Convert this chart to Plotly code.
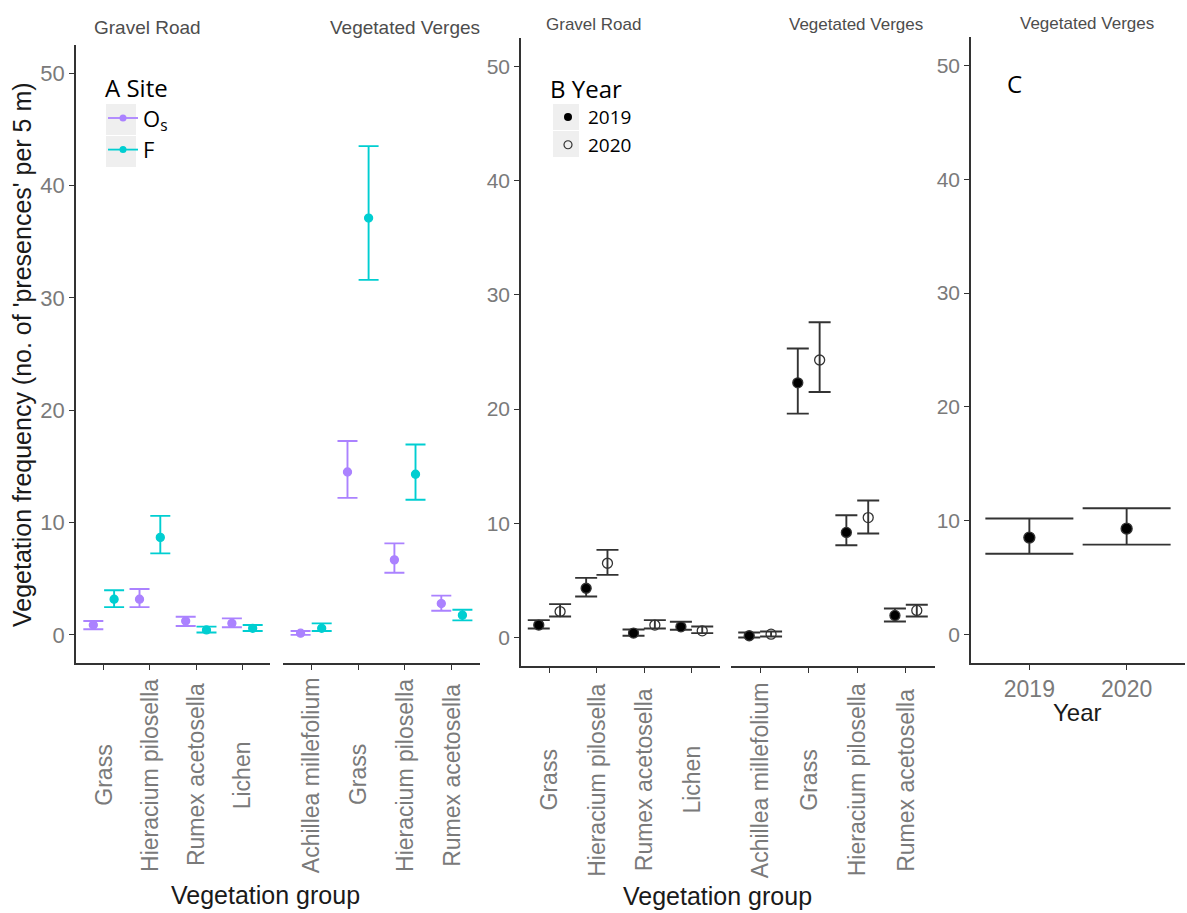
import plotly.graph_objects as go

W, H = 1187, 913

# ---------------- data ----------------
gravel_groups = ["Grass", "Hieracium pilosella", "Rumex acetosella", "Lichen"]
verge_groups = ["Achillea millefolium", "Grass", "Hieracium pilosella", "Rumex acetosella"]
years = ["2019", "2020"]
y_ticks = [0, 10, 20, 30, 40, 50]

# A: by site (Os / F), mean with lower / upper limits
a_gravel_os_mean = [0.88, 3.18, 1.24, 1.03]
a_gravel_os_low = [0.50, 2.47, 0.79, 0.68]
a_gravel_os_high = [1.24, 4.09, 1.62, 1.47]
a_gravel_f_mean = [3.18, 8.68, 0.44, 0.59]
a_gravel_f_low = [2.47, 7.26, 0.21, 0.35]
a_gravel_f_high = [3.97, 10.59, 0.74, 0.88]

a_verge_os_mean = [0.15, 14.5, 6.68, 2.79]
a_verge_os_low = [0.00, 12.2, 5.53, 2.15]
a_verge_os_high = [0.35, 17.26, 8.15, 3.50]
a_verge_f_mean = [0.59, 37.1, 14.3, 1.76]
a_verge_f_low = [0.35, 31.6, 12.03, 1.29]
a_verge_f_high = [1.03, 43.5, 16.94, 2.24]

# B: by year (2019 / 2020)
b_gravel_2019_mean = [1.08, 4.31, 0.38, 0.93]
b_gravel_2019_low = [0.79, 3.59, 0.15, 0.67]
b_gravel_2019_high = [1.52, 5.22, 0.70, 1.37]
b_gravel_2020_mean = [2.27, 6.50, 1.08, 0.58]
b_gravel_2020_low = [1.84, 5.48, 0.79, 0.38]
b_gravel_2020_high = [2.92, 7.67, 1.52, 0.96]

b_verge_2019_mean = [0.15, 22.3, 9.2, 1.93]
b_verge_2019_low = [0.00, 19.6, 8.07, 1.40]
b_verge_2019_high = [0.44, 25.3, 10.7, 2.54]
b_verge_2020_mean = [0.29, 24.3, 10.5, 2.37]
b_verge_2020_low = [0.09, 21.5, 9.1, 1.84]
b_verge_2020_high = [0.52, 27.6, 12.0, 2.87]

# C: vegetated verges, all groups, by year
c_mean = [8.52, 9.30]
c_low = [7.10, 7.90]
c_high = [10.2, 11.1]

# ---------------- styling ----------------
PURPLE = "#AB82FF"
CYAN = "#00CED1"
DARK = "#333333"
TICK_GREY = "#7a7a7a"
STRIP_GREY = "#4d4d4d"
ARIAL = "Liberation Sans, Arial, sans-serif"
SANS = "Open Sans, Noto Sans, sans-serif"
DODGE = 0.225


def px_x(p):
    return p / W


def px_y(p):
    return 1 - p / H


fig = go.Figure()


def add_series(xa, ya, cats, mean, low, high, offset, color, symbol, size, cap,
               lcolor=None):
    xs = [i + offset for i in range(len(cats))]
    fig.add_trace(go.Scatter(
        x=xs, y=mean, mode="markers", xaxis=xa, yaxis=ya, showlegend=False,
        marker=dict(color=color, symbol=symbol, size=size,
                    line=dict(width=1.3, color=lcolor or color)),
        error_y=dict(type="data", symmetric=False,
                     array=[h - m for h, m in zip(high, mean)],
                     arrayminus=[m - l for m, l in zip(mean, low)],
                     color=lcolor or color, thickness=1.9, width=cap),
    ))


# Panel A
add_series("x", "y", gravel_groups, a_gravel_os_mean, a_gravel_os_low, a_gravel_os_high,
           -DODGE, PURPLE, "circle", 8, 10)
add_series("x", "y", gravel_groups, a_gravel_f_mean, a_gravel_f_low, a_gravel_f_high,
           DODGE, CYAN, "circle", 8, 10)
add_series("x2", "y", verge_groups, a_verge_os_mean, a_verge_os_low, a_verge_os_high,
           -DODGE, PURPLE, "circle", 8, 10)
add_series("x2", "y", verge_groups, a_verge_f_mean, a_verge_f_low, a_verge_f_high,
           DODGE, CYAN, "circle", 8, 10)

# Panel B
add_series("x3", "y2", gravel_groups, b_gravel_2019_mean, b_gravel_2019_low, b_gravel_2019_high,
           -DODGE, "black", "circle", 10, 11, DARK)
add_series("x3", "y2", gravel_groups, b_gravel_2020_mean, b_gravel_2020_low, b_gravel_2020_high,
           DODGE, DARK, "circle-open", 10, 11, DARK)
add_series("x4", "y2", verge_groups, b_verge_2019_mean, b_verge_2019_low, b_verge_2019_high,
           -DODGE, "black", "circle", 10, 11, DARK)
add_series("x4", "y2", verge_groups, b_verge_2020_mean, b_verge_2020_low, b_verge_2020_high,
           DODGE, DARK, "circle-open", 10, 11, DARK)

# Panel C
add_series("x5", "y3", years, c_mean, c_low, c_high, 0, "black", "circle", 11, 44, DARK)

# legend entries
fig.add_trace(go.Scatter(x=[None], y=[None], mode="lines+markers", name="O<sub>s</sub>",
                         line=dict(color=PURPLE, width=1.8), marker=dict(color=PURPLE, size=7),
                         xaxis="x", yaxis="y", legend="legend"))
fig.add_trace(go.Scatter(x=[None], y=[None], mode="lines+markers", name="F",
                         line=dict(color=CYAN, width=1.8), marker=dict(color=CYAN, size=7),
                         xaxis="x", yaxis="y", legend="legend"))
fig.add_trace(go.Scatter(x=[None], y=[None], mode="markers", name=years[0],
                         marker=dict(color="black", size=8),
                         xaxis="x3", yaxis="y2", legend="legend2"))
fig.add_trace(go.Scatter(x=[None], y=[None], mode="markers", name=years[1],
                         marker=dict(color=DARK, size=8, symbol="circle-open", line=dict(width=1.2)),
                         xaxis="x3", yaxis="y2", legend="legend2"))

# ---------------- axes ----------------
line_style = dict(showline=True, linecolor=DARK, linewidth=1.6, ticks="outside",
                  tickcolor=DARK, ticklen=5, tickwidth=1.3, showgrid=False,
                  zeroline=False, fixedrange=True)


def xaxis(left, right, n, anchor):
    return dict(domain=[px_x(left), px_x(right)], range=[-0.6, n - 0.4], anchor=anchor,
                tickvals=list(range(n)), showticklabels=False, **line_style)


def yaxis(top, bottom, anchor, size):
    return dict(domain=[px_y(bottom), px_y(top)], range=[-2.5, 52.5], anchor=anchor,
                tickvals=y_ticks, ticktext=[str(v) for v in y_ticks],
                tickfont=dict(family=ARIAL, size=size, color=TICK_GREY), **line_style)


fig.update_layout(
    width=W, height=H, margin=dict(l=0, r=0, t=0, b=0),
    paper_bgcolor="white", plot_bgcolor="white",
    xaxis=xaxis(76, 270, len(gravel_groups), "y"),
    xaxis2=xaxis(283, 480, len(verge_groups), "y"),
    xaxis3=xaxis(521, 720, len(gravel_groups), "y2"),
    xaxis4=xaxis(731, 935, len(verge_groups), "y2"),
    xaxis5=xaxis(971, 1185, len(years), "y3"),
    yaxis=yaxis(45, 663, "x", 22),
    yaxis2=yaxis(38, 666, "x3", 21),
    yaxis3=yaxis(37, 663, "x5", 21),
    legend=dict(x=px_x(103), y=px_y(66), xanchor="left", yanchor="top",
                bgcolor="rgba(0,0,0,0)", itemwidth=30, tracegroupgap=0,
                title=dict(text="A Site", font=dict(family=SANS, size=24, color="black")),
                font=dict(family=SANS, size=22, color="black")),
    legend2=dict(x=px_x(548), y=px_y(67), xanchor="left", yanchor="top",
                 bgcolor="rgba(0,0,0,0)", itemwidth=30, tracegroupgap=0,
                 title=dict(text="B Year", font=dict(family=SANS, size=24, color="black")),
                 font=dict(family=SANS, size=19, color="black")),
    showlegend=True,
)

# C shows year categories as axis ticks
fig.layout.xaxis5.update(showticklabels=True, tickvals=[0, 1], ticktext=years,
                         tickfont=dict(family=ARIAL, size=23, color=TICK_GREY))

ann = []

# rotated, centred category labels
for xa, cats, ypix in [("x", gravel_groups, 775), ("x2", verge_groups, 775),
                       ("x3", gravel_groups, 780), ("x4", verge_groups, 780)]:
    for i, cat in enumerate(cats):
        ann.append(dict(x=i, xref=xa, y=px_y(ypix), yref="paper", text=cat,
                        textangle=-90, showarrow=False, xanchor="center", yanchor="middle",
                        font=dict(family=ARIAL, size=23, color=TICK_GREY)))

# facet strip labels
for text, xp, yp, size in [("Gravel Road", 147, 27, 19), ("Vegetated Verges", 405, 27, 19),
                           ("Gravel Road", 594, 24, 17), ("Vegetated Verges", 856, 24, 17),
                           ("Vegetated Verges", 1087, 23, 17)]:
    ann.append(dict(x=px_x(xp), y=px_y(yp), xref="paper", yref="paper", text=text,
                    showarrow=False, xanchor="center", yanchor="middle",
                    font=dict(family=ARIAL, size=size, color=STRIP_GREY)))

# axis titles
ann.append(dict(x=px_x(22), y=px_y(355), xref="paper", yref="paper",
                text="Vegetation frequency (no. of 'presences' per 5 m)", textangle=-90,
                showarrow=False, xanchor="center", yanchor="middle",
                font=dict(family=ARIAL, size=25, color="#1a1a1a")))
for xp, yp in [(265, 895), (717, 896)]:
    ann.append(dict(x=px_x(xp), y=px_y(yp), xref="paper", yref="paper",
                    text="Vegetation group", showarrow=False, xanchor="center", yanchor="middle",
                    font=dict(family=ARIAL, size=25, color="#1a1a1a")))
ann.append(dict(x=px_x(1077), y=px_y(712), xref="paper", yref="paper", text="Year",
                showarrow=False, xanchor="center", yanchor="middle",
                font=dict(family=ARIAL, size=24, color="#1a1a1a")))

# panel letter for C
ann.append(dict(x=px_x(1015), y=px_y(83), xref="paper", yref="paper", text="C",
                showarrow=False, xanchor="center", yanchor="middle",
                font=dict(family=SANS, size=24, color="black")))

fig.update_layout(annotations=ann)

# grey legend key backgrounds
shapes = []
for x0, x1, y0, y1 in [(106, 136, 104, 135), (106, 136, 136, 167),
                       (553, 579, 104, 130), (553, 579, 131, 157)]:
    shapes.append(dict(type="rect", xref="paper", yref="paper",
                       x0=px_x(x0), x1=px_x(x1), y0=px_y(y1), y1=px_y(y0),
                       fillcolor="#efefef", line=dict(width=0), layer="below"))
fig.update_layout(shapes=shapes)

fig.write_html("out.html")
